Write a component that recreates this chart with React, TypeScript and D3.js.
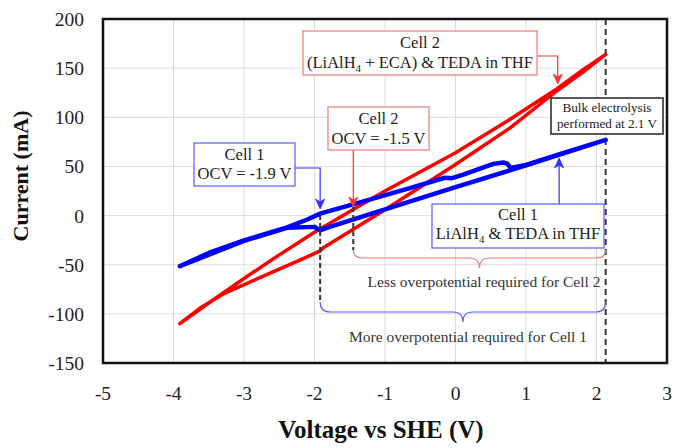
import React from "react";
import * as d3 from "d3";

const xTicks = [-5, -4, -3, -2, -1, 0, 1, 2, 3];
const yTicks = [-150, -100, -50, 0, 50, 100, 150, 200];

// Cell 2 (red) loop: voltage (V) and current (mA)
const cell2V = [-3.91, -3.5, -3.0, -2.5, -2.0, -1.36, -1.0, 0.0, 0.73, 1.44, 1.8, 2.13,
  1.8, 1.44, 0.77, 0.0, -1.0, -1.45, -1.88, -1.92, -2.2, -2.8, -3.3, -3.6, -3.91];
const cell2I = [-110, -89, -64, -40, -17, 10, 25, 64, 96, 129, 148, 164,
  145.5, 127, 89, 52, 6, -14, -33, -36, -45, -64, -80, -93, -110];

// Cell 1 (blue) loop
const cell1V = [-3.91, -3.5, -3.01, -2.39, -2.1, -1.92, -1.355, -0.6, -0.15, -0.05, 0.1, 0.536, 0.68, 0.74, 0.78, 1.0, 1.5, 2.13,
  1.0, 0.0, -1.0, -1.85, -1.92, -2.0, -2.39, -3.01, -3.91];
const cell1I = [-51.5, -38, -25.5, -12, -4, 2, 13.5, 29, 38.5, 38, 41.5, 52.6, 54, 52.5, 48.5, 51.5, 63, 77,
  51, 29, 6.2, -13, -15, -11.5, -12.5, -26, -51.5];

const W = 673, H = 448;
const x = d3.scaleLinear().domain([-5, 3]).range([103, 667]);
const y = d3.scaleLinear().domain([-150, 200]).range([363, 19]);

const serif = "Liberation Serif, DejaVu Serif, Times New Roman, serif";

function arrowHead(px: number, py: number, dir: "down" | "up", color: string) {
  const s = dir === "down" ? -1 : 1;
  const d = `M${px - 4.5},${py + s * 10} L${px},${py} L${px + 4.5},${py + s * 10} L${px},${py + s * 7} Z`;
  return <path d={d} fill={color} stroke={color} strokeWidth={0.8} />;
}

function brace(x0: number, x1: number, cx: number, yTop: number, ym: number, yTip: number) {
  const r = 10;
  return `M${x0},${yTop} Q${x0},${ym} ${x0 + r},${ym} L${cx - r},${ym} Q${cx},${ym} ${cx},${yTip} Q${cx},${ym} ${cx + r},${ym} L${x1 - r},${ym} Q${x1},${ym} ${x1},${yTop}`;
}

export default function App() {
  const mk = (vs: number[], is: number[]) =>
    d3.line<number>()
      .x((i) => x(vs[i]))
      .y((i) => y(is[i]))(vs.map((_, i) => i)) as string;

  const redPath = mk(cell2V, cell2I);
  const bluePath = mk(cell1V, cell1I);

  const red = "#ff0000";
  const blue = "#0000ff";
  const redBox = "#f07878";
  const blueBox = "#5a5aff";
  const redArrow = "#ff3030";
  const blueArrow = "#3030ff";
  const txt = "#222";

  const xCell1 = x(-1.92);
  const xCell2 = x(-1.45);
  const xBulk = x(2.13);

  const T = (p: any) => <text {...p} style={{ fontFamily: serif }} />;

  return (
    <svg width={W} height={H} style={{ position: "absolute", left: 0, top: 0, background: "#fff", fontFamily: serif }}>
      <rect x={0} y={0} width={W} height={H} fill="#fff" />
      {/* grid */}
      {xTicks.map((t) => (
        <line key={"gx" + t} x1={x(t)} x2={x(t)} y1={y(200)} y2={y(-150)} stroke="#dcdcdc" strokeWidth={1} />
      ))}
      {yTicks.map((t) => (
        <line key={"gy" + t} x1={x(-5)} x2={x(3)} y1={y(t)} y2={y(t)} stroke="#dcdcdc" strokeWidth={1} />
      ))}
      {/* tick labels */}
      {xTicks.map((t) => (
        <T key={"tx" + t} x={x(t)} y={400} textAnchor="middle" fontSize={19.5} fill={txt}>{t}</T>
      ))}
      {yTicks.map((t) => (
        <T key={"ty" + t} x={84} y={y(t) + 7} textAnchor="end" fontSize={19.5} fill={txt}>{t}</T>
      ))}
      {/* axis titles */}
      <T x={381} y={438} textAnchor="middle" fontSize={25} fontWeight="bold" fill="#111">Voltage vs SHE (V)</T>
      <T transform={`translate(28,${176}) rotate(-90)`} textAnchor="middle" fontSize={22} fontWeight="bold" fill="#111">Current (mA)</T>

      {/* dashed bulk line */}
      <line x1={xBulk} x2={xBulk} y1={y(200)} y2={y(-150)} stroke="#333" strokeWidth={2} strokeDasharray="6,4" />

      {/* curves */}
      <path d={redPath} fill="none" stroke={red} strokeWidth={3.5} strokeLinejoin="round" strokeLinecap="round" />
      <path d={bluePath} fill="none" stroke={blue} strokeWidth={4.5} strokeLinejoin="round" strokeLinecap="round" />

      {/* OCV dashed lines */}
      <line x1={xCell1} x2={xCell1} y1={215} y2={302} stroke="#333" strokeWidth={2} strokeDasharray="5,3" />
      <line x1={xCell2} x2={xCell2} y1={207} y2={250} stroke="#333" strokeWidth={2} strokeDasharray="5,3" />

      {/* braces */}
      <path d={brace(xCell2, xBulk, (xCell2 + xBulk) / 2, 250, 258, 268)} fill="none" stroke={redBox} strokeWidth={1.2} />
      <path d={brace(xCell1, xBulk, (xCell1 + xBulk) / 2, 302, 312, 322)} fill="none" stroke={blueBox} strokeWidth={1.2} />
      <T x={484} y={287} textAnchor="middle" fontSize={15.5} fill="#333">Less overpotential required for Cell 2</T>
      <T x={468} y={341.5} textAnchor="middle" fontSize={15.5} fill="#333">More overpotential required for Cell 1</T>

      {/* Cell 2 top box */}
      <polyline points={`537,56 ${x(1.45)},56 ${x(1.45)},78`} fill="none" stroke={redArrow} strokeWidth={1.2} />
      {arrowHead(x(1.45), 84, "down", redArrow)}
      <rect x={303} y={31} width={234} height={44} fill="#fff" stroke={redBox} strokeWidth={1.2} />
      <T x={420} y={48} textAnchor="middle" fontSize={16.5} fill={txt}>Cell 2</T>
      <T x={420} y={68} textAnchor="middle" fontSize={16.5} fill={txt}>
        (LiAlH<tspan fontSize={11} dy={4}>4</tspan><tspan dy={-4}> + ECA) &amp; TEDA in THF</tspan>
      </T>

      {/* Cell 2 OCV box */}
      <line x1={xCell2} x2={xCell2} y1={150} y2={200} stroke={redArrow} strokeWidth={1.2} />
      {arrowHead(xCell2, 207, "down", redArrow)}
      <rect x={328} y={107} width={101} height={43} fill="#fff" stroke={redBox} strokeWidth={1.2} />
      <T x={378.5} y={124} textAnchor="middle" fontSize={16.5} fill={txt}>Cell 2</T>
      <T x={378.5} y={143.5} textAnchor="middle" fontSize={16.5} fill={txt}>OCV = -1.5 V</T>

      {/* Cell 1 OCV box */}
      <polyline points={`295,168 ${xCell1},168 ${xCell1},203`} fill="none" stroke={blueArrow} strokeWidth={1.2} />
      {arrowHead(xCell1, 209, "down", blueArrow)}
      <rect x={194} y={143} width={101} height={43} fill="#fff" stroke={blueBox} strokeWidth={1.2} />
      <T x={244.5} y={159.5} textAnchor="middle" fontSize={16.5} fill={txt}>Cell 1</T>
      <T x={244.5} y={179} textAnchor="middle" fontSize={16.5} fill={txt}>OCV = -1.9 V</T>

      {/* Cell 1 lower box */}
      <line x1={x(1.47)} x2={x(1.47)} y1={204} y2={165} stroke={blueArrow} strokeWidth={1.2} />
      {arrowHead(x(1.47), 158, "up", blueArrow)}
      <rect x={432} y={204} width={172} height={44} fill="#fff" stroke={blueBox} strokeWidth={1.2} />
      <T x={518} y={219.5} textAnchor="middle" fontSize={16.5} fill={txt}>Cell 1</T>
      <T x={518} y={239} textAnchor="middle" fontSize={16.5} fill={txt}>
        LiAlH<tspan fontSize={11} dy={4}>4</tspan><tspan dy={-4}> &amp; TEDA in THF</tspan>
      </T>

      {/* Bulk electrolysis box */}
      <rect x={551} y={98} width={112} height={36} fill="#fff" stroke="#222" strokeWidth={1.5} />
      <T x={607} y={111.5} textAnchor="middle" fontSize={13.2} fill={txt}>Bulk electrolysis</T>
      <T x={607} y={128} textAnchor="middle" fontSize={13.2} fill={txt}>performed at 2.1 V</T>

      {/* frame */}
      <rect x={x(-5)} y={y(200)} width={x(3) - x(-5)} height={y(-150) - y(200)} fill="none" stroke="#111" strokeWidth={2.5} />
    </svg>
  );
}
